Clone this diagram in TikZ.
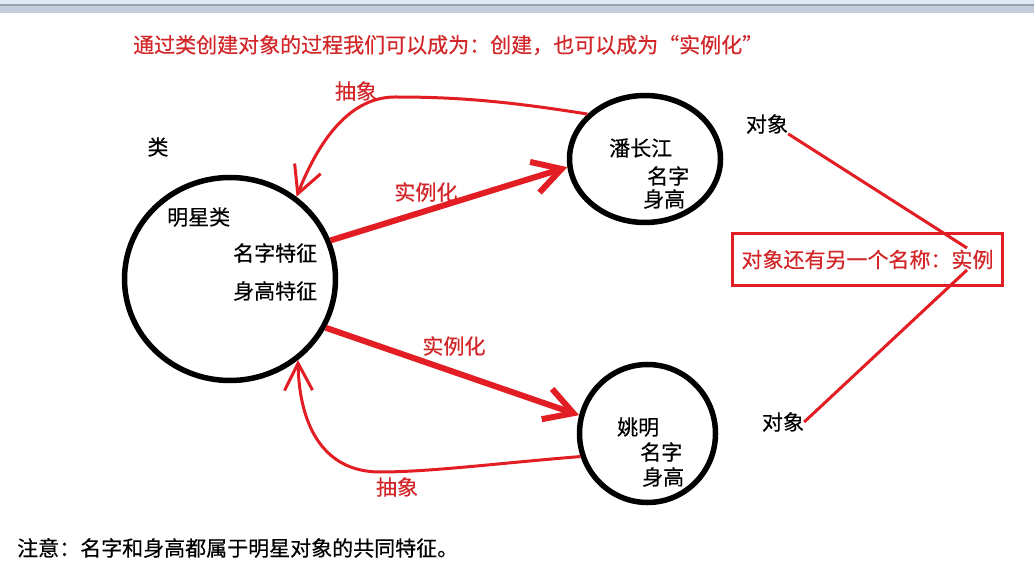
\documentclass[tikz,border=0pt]{standalone}
\usepackage{fontspec}
\setmainfont{Noto Sans CJK SC}[FakeBold=0.4]
\usetikzlibrary{arrows.meta,shapes.geometric}
\definecolor{lred}{RGB}{226,30,36}
\definecolor{tred}{RGB}{210,38,40}
\definecolor{chromeA}{RGB}{222,231,242}
\definecolor{chromeL}{RGB}{150,162,180}
\definecolor{chromeB}{RGB}{196,205,218}
\begin{document}
\begin{tikzpicture}[x=1pt,y=-1pt,
  txt/.style={inner sep=0pt, font=\fontsize{21}{24}\selectfont},
  redtxt/.style={txt, text=tred},
  ring/.style={draw=black, line width=5.5pt, ellipse, inner sep=0pt},
  absarrow/.style={draw=lred, line width=3pt, -{Straight Barb[length=27pt,width=28pt]}},
  instarrow/.style={draw=lred, line width=6pt, -{Straight Barb[length=28pt,width=32pt]}},
  objline/.style={draw=lred, line width=3pt},
  namebox/.style={draw=lred, line width=3pt, inner sep=0pt, text=tred, font=\fontsize{21}{24}\selectfont},
]
\useasboundingbox[fill=white] (0,0) rectangle (1034,577);
% window chrome
\fill[chromeA] (0,0) rectangle (1034,4.5);
\fill[chromeL] (0,4.5) rectangle (1034,6);
\fill[chromeB] (0,6) rectangle (1034,13.5);

% title
\node[redtxt, anchor=west] (title) at (133,45) {通过类创建对象的过程我们可以成为：创建，也可以成为“实例化”};

% circles
\node[ring, minimum width=211pt, minimum height=203pt] (big) at (230,279) {};
\node[ring, minimum width=151pt, minimum height=127pt] (pan) at (645,159) {};
\node[ring, minimum width=136pt, minimum height=138pt] (yao) at (647.5,433.5) {};

% class texts
\node[txt] (lei) at (158,147) {类};
\node[txt, anchor=west] (mx) at (167,217) {明星类};
\node[txt, anchor=west] (mztz) at (233,253) {名字特征};
\node[txt, anchor=west] (sgtz) at (233,291) {身高特征};

% object texts
\node[txt, anchor=west] (pcj) at (609,148) {潘长江};
\node[txt, anchor=west] (pmz) at (647,176) {名字};
\node[txt, anchor=west] (psg) at (643,199) {身高};
\node[txt, anchor=west] (ym) at (617,427) {姚明};
\node[txt, anchor=west] (ymz) at (640,452) {名字};
\node[txt, anchor=west] (ysg) at (642,477) {身高};

% arrow labels
\node[redtxt] (abs1) at (356,91) {抽象};
\node[redtxt] (inst1) at (426,192) {实例化};
\node[redtxt] (inst2) at (454,346) {实例化};
\node[redtxt] (abs2) at (397,487) {抽象};

% right side
\node[txt] (obj1) at (767,124) {对象};
\node[txt] (obj2) at (783,422) {对象};
\node[namebox, minimum width=270pt, minimum height=52pt] (box) at (867.5,259.5) {对象还有另一个名称：实例};
\coordinate (p1) at (967,248);
\coordinate (p2) at (967,270);

% note
\node[txt, anchor=west] (note) at (17,548) {注意：名字和身高都属于明星对象的共同特征。};

% connectors
\draw[absarrow] (pan.142.5) .. controls (500,100) and (450,97) .. (395,97)
   .. controls (345,97) and (315,150) .. (big.51.6);
\draw[absarrow] (yao.199.7) .. controls (500,463) and (430,472) .. (380,472)
   .. controls (320,472) and (299,420) .. (big.-50.2);
\draw[instarrow] (big.21.3) -- (pan.186.3);
\draw[instarrow] (big.-27.8) -- (yao.165.9);
\draw[objline] (obj1.south east) -- (p1);
\draw[objline] (obj2.east) -- (p2);
\end{tikzpicture}
\end{document}
